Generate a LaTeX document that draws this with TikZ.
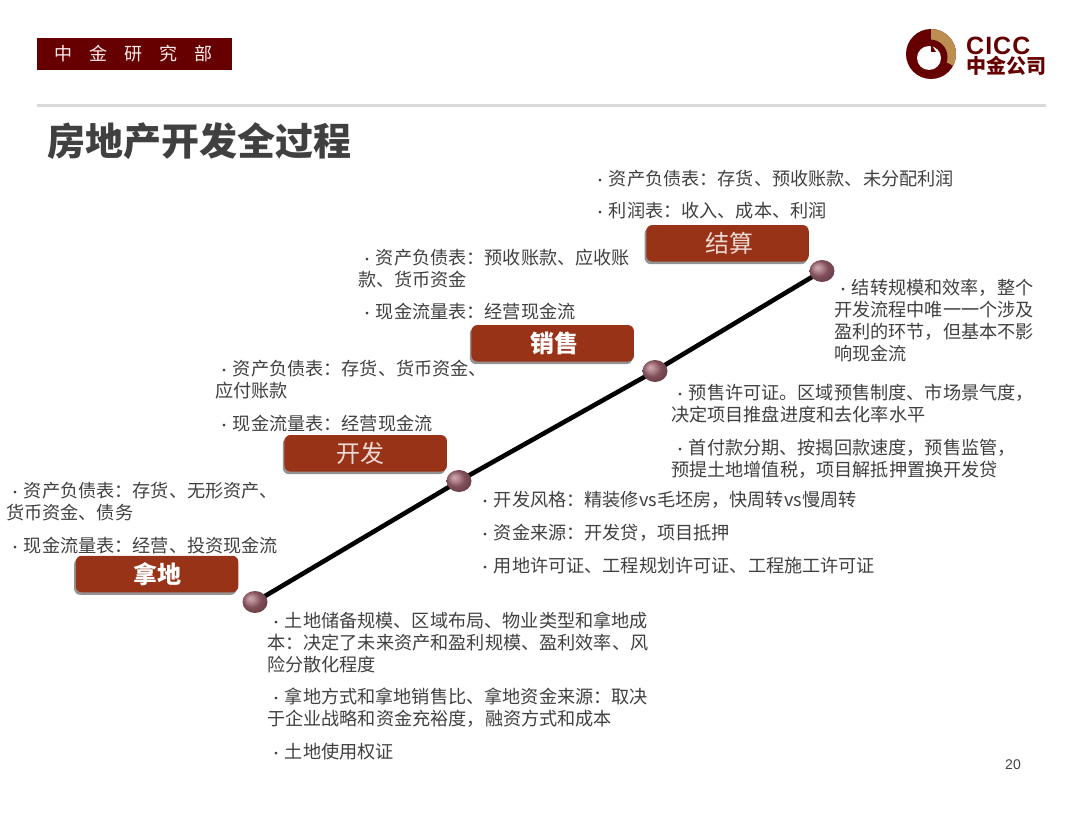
\documentclass[tikz,border=0pt]{standalone}
\usepackage{fontspec}
\usetikzlibrary{shapes.geometric,shadows,backgrounds}
\setmainfont{Liberation Sans}
\newfontfamily\cjk{Noto Sans CJK SC}
\definecolor{txt}{HTML}{404040}
\definecolor{deepred}{HTML}{660000}
\definecolor{boxred}{HTML}{993318}
\definecolor{goldc}{HTML}{BC8E50}
\newcommand\bul{\makebox[17.7pt][c]{\fontsize{13}{13}\selectfont ·}}
\pgfdeclareradialshading{orbshade}{\pgfpoint{-10bp}{9bp}}{%
  rgb(0bp)=(0.80,0.66,0.68);
  rgb(7bp)=(0.72,0.55,0.58);
  rgb(18bp)=(0.50,0.31,0.35);
  rgb(34bp)=(0.38,0.22,0.26);
  rgb(50bp)=(0.32,0.18,0.22)}
\tikzset{
  para/.style={anchor=north west,inner sep=0pt,align=left,text=txt,font=\cjk\fontsize{18.15}{22}\selectfont},
  stagebox/.style={rounded corners=6pt,fill=boxred,minimum width=162.5pt,minimum height=36.5pt,inner sep=0pt,text=white,
     font=\cjk\fontsize{24}{26}\selectfont,drop shadow={shadow xshift=-1.6pt,shadow yshift=-2.6pt,fill=black!50,opacity=.85}},
  softlabel/.style={text=white!82!boxred},
  orb/.style={ellipse,minimum width=25pt,minimum height=22pt,inner sep=0pt,shading=orbshade},
  rail/.style={line width=4.6pt,black}
}
\begin{document}
\begin{tikzpicture}[x=1pt,y=-1pt]
\useasboundingbox (0,0) rectangle (1080,816);
% header
\node[fill=deepred,minimum width=195pt,minimum height=32pt,inner sep=0pt,text=white!92!red,font=\cjk\fontsize{18}{20}\selectfont] (banner) at (134.5,54) {中\hspace{17pt}金\hspace{17pt}研\hspace{17pt}究\hspace{17pt}部\hspace{2pt}\mbox{}};
\coordinate (ruleL) at (37,106);
\coordinate (ruleR) at (1046,106);
\draw[line width=3pt,black!15] (ruleL) -- (ruleR);
\node[anchor=west,inner sep=0pt,text=txt,font=\cjk\bfseries\fontsize{38}{40}\selectfont] (title) at (47,141) {房地产开发全过程};
% logo
\fill[deepred] (931,54) circle (25);
\fill[goldc] (931,54) -- (931,29) arc[start angle=-90,end angle=28,radius=25] -- cycle;
\fill[deepred] (930,57) circle (17.5);
\fill[white] (929,58) circle (12);
\fill[deepred] (931,44) -- (936,52) -- (931,52) -- cycle;
\node[anchor=west,inner sep=0pt,text=deepred,font=\bfseries\fontsize{25}{26}\selectfont] (cicc) at (966,45.5) {C\kern1pt I\kern1pt C\kern1pt C};
\node[anchor=west,inner sep=0pt,text=deepred,font=\cjk\bfseries\fontsize{20}{20}\selectfont] (cn) at (966,66) {中金公司};
\node[inner sep=0pt,text=txt,font=\fontsize{14}{16}\selectfont] (page) at (1013,765) {20};
% orbs
\node[orb] (b1) at (255,602) {};
\node[orb] (b2) at (459,481) {};
\node[orb] (b3) at (655,371) {};
\node[orb] (b4) at (822,271) {};
\begin{scope}[on background layer]
\draw[rail] (b1.center) -- (b2.center);
\draw[rail] (b2.center) -- (b3.center);
\draw[rail] (b3.center) -- (b4.center);
\end{scope}
% stage boxes
\node[stagebox] (s1) at (157,574) {\bfseries 拿地};
\node[stagebox,softlabel] (s2) at (365.7,453.3) {开发\hspace{10pt}\mbox{}};
\node[stagebox] (s3) at (552.7,343.3) {\hspace{4pt}\bfseries 销售};
\node[stagebox,softlabel] (s4) at (727.5,243.3) {\hspace{3pt}结算};
% texts
\node[para] (t1) at (591,170) {\bul 资产负债表：存货、预收账款、未分配利润};
\node[para] (t2) at (591,202) {\bul 利润表：收入、成本、利润};
\node[para] (t3) at (834,279) {\bul 结转规模和效率，整个\\开发流程中唯一一个涉及\\盈利的环节，但基本不影\\响现金流};
\node[para] (t4) at (358,249) {\bul 资产负债表：预收账款、应收账\\款、货币资金};
\node[para] (t5) at (358,303) {\bul 现金流量表：经营现金流};
\node[para] (t6) at (671,384) {\bul 预售许可证。区域预售制度、市场景气度，\\决定项目推盘进度和去化率水平};
\node[para] (t7) at (671,439) {\bul 首付款分期、按揭回款速度，预售监管，\\预提土地增值税，项目解抵押置换开发贷};
\node[para] (t8) at (215,360) {\bul 资产负债表：存货、货币资金、\\应付账款};
\node[para] (t9) at (215,415) {\bul 现金流量表：经营现金流};
\node[para] (t10) at (476,491) {\bul 开发风格：精装修vs毛坯房，快周转vs慢周转};
\node[para] (t11) at (476,524) {\bul 资金来源：开发贷，项目抵押};
\node[para] (t12) at (476,557) {\bul 用地许可证、工程规划许可证、工程施工许可证};
\node[para] (t13) at (6,482) {\bul 资产负债表：存货、无形资产、\\货币资金、债务};
\node[para] (t14) at (6,537) {\bul 现金流量表：经营、投资现金流};
\node[para] (t15) at (267,612) {\bul 土地储备规模、区域布局、物业类型和拿地成\\本：决定了未来资产和盈利规模、盈利效率、风\\险分散化程度};
\node[para] (t16) at (267,688) {\bul 拿地方式和拿地销售比、拿地资金来源：取决\\于企业战略和资金充裕度，融资方式和成本};
\node[para] (t17) at (267,743) {\bul 土地使用权证};
\end{tikzpicture}
\end{document}
